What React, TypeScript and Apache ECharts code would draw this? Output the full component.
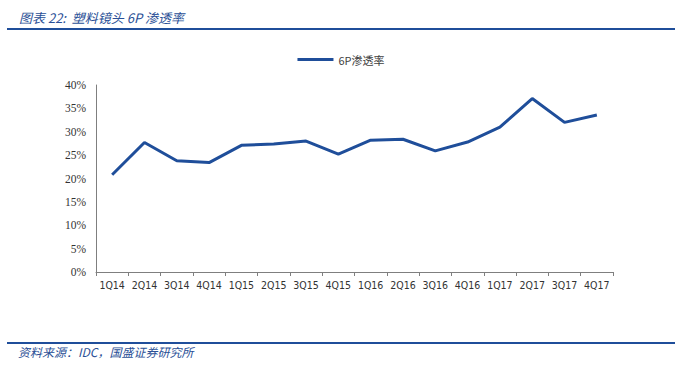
import React, { useEffect, useRef } from "react";
import * as echarts from "echarts";

const categories = ["1Q14","2Q14","3Q14","4Q14","1Q15","2Q15","3Q15","4Q15","1Q16","2Q16","3Q16","4Q16","1Q17","2Q17","3Q17","4Q17"];
const penetration = [20.8, 27.7, 23.8, 23.4, 27.1, 27.4, 28.0, 25.2, 28.2, 28.4, 25.9, 27.8, 31.0, 37.1, 32.0, 33.6];
const seriesName = "6P渗透率";
const titleText = "图表 22:  塑料镜头 6P 渗透率";
const sourceText = "资料来源：IDC，国盛证券研究所";

export default function App() {
  const ref = useRef<HTMLDivElement>(null);
  useEffect(() => {
    if (!ref.current) return;
    const chart = echarts.init(ref.current, undefined, { renderer: "svg" });
    chart.setOption({
      animation: false,
      backgroundColor: "#ffffff",
      title: {
        text: titleText,
        left: 14,
        top: 6,
        textStyle: { fontSize: 13, fontStyle: "italic", fontWeight: "normal", color: "#2a4f96", fontFamily: "Noto Sans CJK SC" },
      },
      legend: {
        top: 49,
        left: "center",
        itemWidth: 36,
        itemHeight: 3,
        icon: "rect",
        textStyle: { fontSize: 11, color: "#404040", fontFamily: "Noto Sans CJK SC" },
        data: [seriesName],
      },
      graphic: [
        { type: "rect", shape: { x: 7, y: 28, width: 668, height: 2 }, style: { fill: "#1f4e9a" } },
        { type: "rect", shape: { x: 7, y: 342, width: 668, height: 2 }, style: { fill: "#1f4e9a" } },
        {
          type: "text",
          x: 18,
          y: 345,
          style: { text: sourceText, fontSize: 12, fontStyle: "italic", fill: "#2a4f96", fontFamily: "Noto Sans CJK SC" },
        },
      ],
      grid: { left: 96, right: 69, top: 85, bottom: 95 },
      xAxis: {
        type: "category",
        data: categories,
        boundaryGap: true,
        axisLine: { lineStyle: { color: "#7f7f7f", width: 1 } },
        axisTick: { show: true, inside: false, length: 4, lineStyle: { color: "#7f7f7f" } },
        axisLabel: { interval: 0, fontSize: 10.5, color: "#333", margin: 7, fontFamily: "DejaVu Sans Condensed" },
      },
      yAxis: {
        type: "value",
        min: 0,
        max: 40,
        interval: 5,
        splitLine: { show: false },
        axisLine: { show: true, lineStyle: { color: "#7f7f7f", width: 1 } },
        axisTick: { show: false },
        axisLabel: { formatter: "{value}%", fontSize: 11.5, color: "#333", margin: 10, fontFamily: "Liberation Serif" },
      },
      series: [
        {
          name: seriesName,
          type: "line",
          data: penetration,
          symbol: "none",
          lineStyle: { color: "#1f4e9a", width: 3 },
          itemStyle: { color: "#1f4e9a" },
        },
      ],
    });
    return () => chart.dispose();
  }, []);
  return <div ref={ref} style={{ position: "fixed", left: 0, top: 0, width: 682, height: 367 }} />;
}
